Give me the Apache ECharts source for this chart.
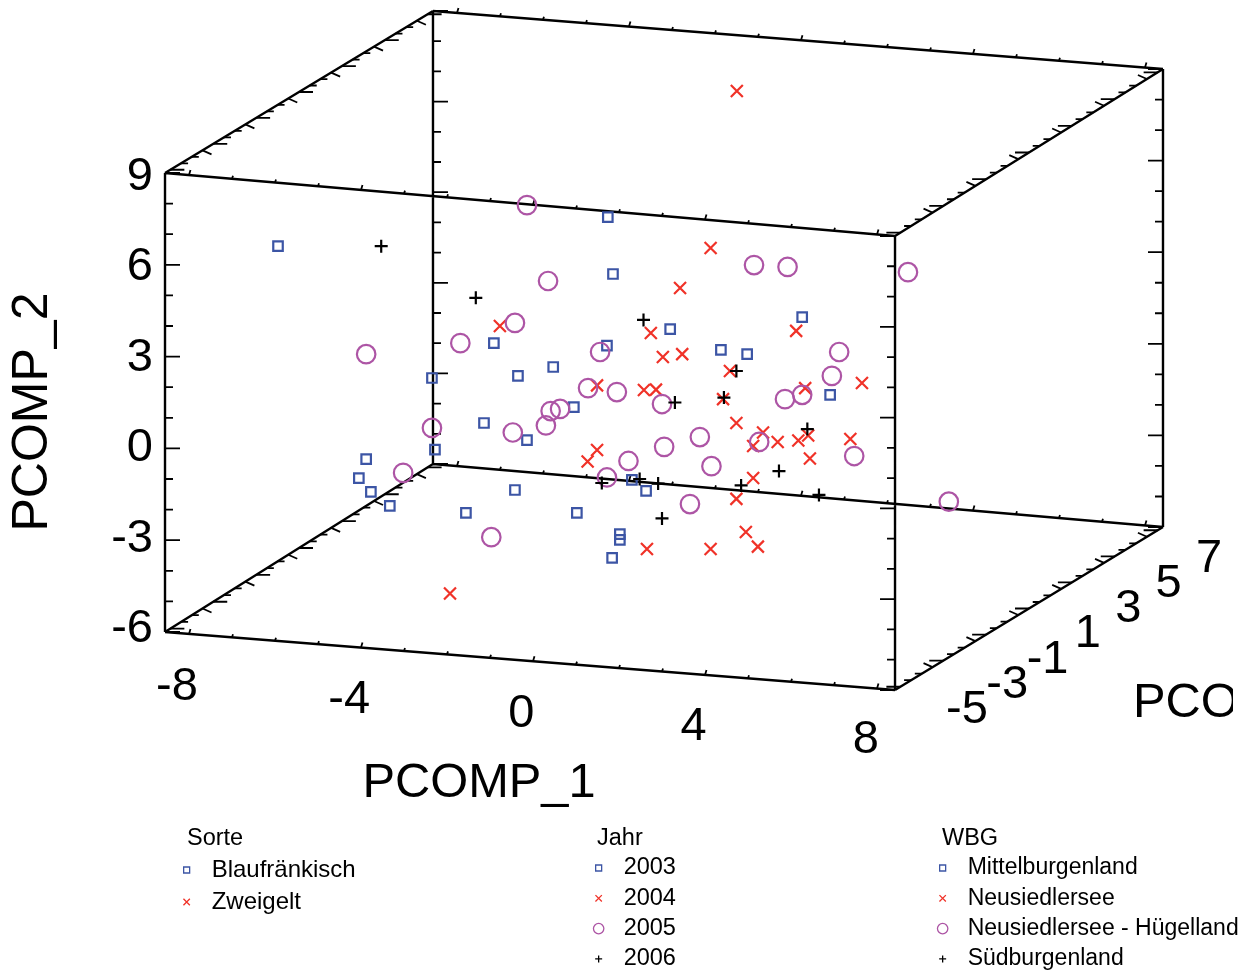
<!DOCTYPE html>
<html lang="de">
<head>
    <meta charset="UTF-8">
    <title>PCOMP Scatterplot</title>
    <script src="https://cdn.jsdelivr.net/npm/echarts@6/dist/echarts.min.js"></script>
    <style>
        html, body { margin: 0; padding: 0; background: #fff; }
        #chart { width: 1247px; height: 972px; }
    </style>
</head>
<body>
    <div id="chart"></div>
    <script>
        // Points: [PCOMP_1, PCOMP_2] on the plot plane
        const year2003 = [[-5.93,6.61],[1.74,7.56],[1.86,5.70],[6.26,4.29],[3.19,3.90],[-0.91,3.44],[1.72,3.36],[4.37,3.22],
            [4.98,3.08],[0.47,2.66],[-0.35,2.37],[-2.35,2.30],[6.91,1.75],[0.95,1.35],[-1.14,0.83],[-0.14,0.27],[-2.28,-0.04],
            [-3.88,-0.35],[-4.05,-0.97],[-3.77,-1.42],[-3.33,-1.88],[-0.42,-1.36],[-1.56,-2.11],[1.02,-2.11],[2.02,-2.80],
            [2.02,-2.99],[1.84,-3.58],[2.30,-1.03],[2.63,-1.39]];
        const year2004 = [[4.74,11.68],[4.13,6.55],[3.42,5.24],[-0.77,4.00],[2.74,3.77],[6.12,3.84],[3.02,2.99],[3.47,3.08],
            [4.58,2.53],[7.65,2.14],[1.49,2.06],[2.58,1.91],[2.86,1.92],[6.33,1.97],[4.42,1.61],[4.73,0.83],[5.35,0.52],
            [5.69,0.21],[5.12,0.08],[6.17,0.26],[6.40,0.42],[7.38,0.31],[6.44,-0.33],[5.12,-0.97],[4.73,-1.65],[1.49,-0.05],
            [1.27,-0.43],[4.95,-2.73],[5.23,-3.21],[4.13,-3.29],[2.65,-3.29],[-1.93,-4.74]];
        const year2005 = [[-0.14,7.95],[0.35,5.47],[5.14,5.99],[5.92,5.93],[8.72,5.76],[-0.42,4.10],[-1.69,3.44],[-3.88,3.08],
            [1.56,3.15],[7.12,3.15],[6.95,2.37],[1.28,1.97],[1.95,1.84],[5.86,1.61],[6.26,1.75],[3.00,1.45],[0.41,1.22],
            [0.63,1.29],[0.30,0.75],[-0.47,0.52],[-2.35,0.67],[3.88,0.37],[3.05,0.05],[5.26,0.21],[7.47,-0.25],[4.15,-0.58],
            [2.22,-0.41],[1.72,-0.95],[-3.02,-0.80],[3.65,-1.82],[9.67,-1.74],[-0.97,-2.90]];
        const year2006 = [[-3.53,6.61],[-1.33,4.92],[2.57,4.20],[4.73,2.53],[3.30,1.50],[4.44,1.66],[6.38,0.63],[5.72,-0.74],
            [2.48,-1.00],[1.60,-1.13],[2.91,-1.15],[4.84,-1.21],[6.65,-1.52],[3.00,-2.29]];

        const sorteNames = ['Blaufränkisch', 'Zweigelt'];
        const jahrNames = ['2003', '2004', '2005', '2006'];
        const wbgNames = ['Mittelburgenland', 'Neusiedlersee', 'Neusiedlersee - Hügelland', 'Südburgenland'];

        const xTicks = [-8, -4, 0, 4, 8];
        const yTicks = [-6, -3, 0, 3, 6, 9];
        const zTicks = [-5, -3, -1, 1, 3, 5, 7];

        // Box corners in plot plane units (F/B front back, L/R left right, B/T bottom top)
        const FLB = [-8.558, -6], FRB = [8.419, -7.895], FLT = [-8.558, 9], FRT = [8.419, 6.941];
        const BLB = [-2.326, -0.51], BRB = [14.651, -2.569], BLT = [-2.326, 14.294], BRT = [14.651, 12.399];

        const FONT = '"Liberation Sans", Arial, sans-serif';
        const BLUE = '#3c55a5', RED = '#f03228', PURPLE = '#ad55a5', BLACK = '#000';

        // pixels per unit of the two hidden scales
        const PX_X = 43, PX_Y = 30.6;
        const xMin = -8.558, xMax = 8.419, zMin = -5.25, zMax = 7.25;

        function lerp(a, b, t) {
            return [a[0] + (b[0] - a[0]) * t, a[1] + (b[1] - a[1]) * t];
        }

        // segment starting on a point, direction given in pixels
        function tick(list, p, dx, dy) {
            list.push(p, [p[0] + dx / PX_X, p[1] - dy / PX_Y], ['-', '-']);
        }

        function boxEdges() {
            const out = [];
            const edges = [[FLT, FRT], [FRT, FRB], [FRB, FLB], [FLB, FLT], [BLT, BRT], [BRT, BRB], [BRB, BLB], [BLB, BLT],
                [FLT, BLT], [FRT, BRT], [FLB, BLB], [FRB, BRB]];
            edges.forEach(e => out.push(e[0], e[1], ['-', '-']));
            return out;
        }

        function boxTicks() {
            const out = [];
            // PCOMP_1 ticks on the four long edges
            [[FLB, FRB], [FLT, FRT], [BLB, BRB], [BLT, BRT]].forEach(e => {
                for (let v = -8; v <= 8; v++) {
                    const major = v % 4 === 0;
                    tick(out, lerp(e[0], e[1], (v - xMin) / (xMax - xMin)), major ? 1.5 : 1, major ? -5 : -3);
                }
            });
            // PCOMP_2 ticks on the verticals
            [[FLB, FLT, 1], [BLB, BLT, 1], [FRB, FRT, -1], [BRB, BRT, -1]].forEach(e => {
                for (let v = -6; v <= 9; v++) {
                    tick(out, lerp(e[0], e[1], (v + 6) / 15), e[2] * (v % 3 === 0 ? 15 : 8), 0);
                }
            });
            // PCOMP_3 ticks on the depth edges
            [[FLB, BLB, 1], [FLT, BLT, 1], [FRB, BRB, -1], [FRT, BRT, -1]].forEach(e => {
                for (let k = 0; k <= 24; k++) {
                    const p = lerp(e[0], e[1], (-5 + k * 0.5 - zMin) / (zMax - zMin));
                    if (k % 4 === 0) tick(out, p, e[2] * 14, 0);
                    else if (k % 4 === 3) tick(out, p, e[2] * 9, e[2] * 4);
                    else tick(out, p, e[2] * 7, 0);
                }
            });
            return out;
        }

        function axisLabels(values, from, to) {
            return values.map((v, i) => {
                const p = lerp(from, to, i / (values.length - 1));
                return { value: p, name: String(v) };
            });
        }

        const SYM_X = 'path://M0 0L10 10M10 0L0 10';
        const SYM_PLUS = 'path://M5 0V10M0 5H10';
        // legend versions, padded so they keep their own size in the icon cell
        const ICON_RECT = 'path://M0 0M14 14M4 4H10V10H4Z';
        const ICON_X = 'path://M0 0M14 14M3.8 3.8L10.2 10.2M10.2 3.8L3.8 10.2';
        const ICON_CIRCLE = 'path://M0 0M14 14M12.2 7A5.2 5.2 0 1 1 1.8 7A5.2 5.2 0 1 1 12.2 7Z';
        const ICON_PLUS = 'path://M0 0M14 14M7 3.5V10.5M3.5 7H10.5';

        const STYLES = [
            { symbol: 'rect', size: 9.5, color: BLUE, icon: ICON_RECT },
            { symbol: SYM_X, size: 12, color: RED, icon: ICON_X },
            { symbol: 'circle', size: 18.5, color: PURPLE, icon: ICON_CIRCLE },
            { symbol: SYM_PLUS, size: 13, color: BLACK, icon: ICON_PLUS }
        ];

        function markerSeries(name, data, st) {
            return {
                name: name,
                type: 'scatter',
                data: data,
                clip: false,
                symbol: st.symbol,
                symbolSize: st.size,
                silent: true,
                z: 5,
                itemStyle: { color: 'transparent', borderColor: st.color, borderWidth: 2.2, opacity: 1 }
            };
        }

        function legendBlock(names, left, top, gap, fontSize) {
            return {
                orient: 'vertical',
                left: left,
                top: top,
                padding: 0,
                height: 116,
                itemWidth: 40,
                itemHeight: 14,
                itemGap: gap,
                selectedMode: false,
                textStyle: { fontFamily: FONT, fontSize: fontSize, color: '#000', lineHeight: 24 },
                data: names.map((n, i) => ({
                    name: n,
                    icon: STYLES[i].icon,
                    itemStyle: { color: 'transparent', borderColor: STYLES[i].color, borderWidth: 1.3 }
                }))
            };
        }

        function labelSeries(data, align) {
            return {
                type: 'scatter',
                data: data,
                clip: false,
                silent: true,
                symbolSize: 1,
                itemStyle: { color: 'transparent', opacity: 1 },
                label: {
                    show: true,
                    position: 'inside',
                    align: align,
                    formatter: '{b}',
                    color: '#000',
                    fontFamily: FONT,
                    fontSize: 47
                }
            };
        }

        const chart = echarts.init(document.getElementById('chart'), null, { renderer: 'canvas' });
        chart.setOption({
            animation: false,
            backgroundColor: '#fff',
            // grid spans the page width so the depth of the box is not cut off
            grid: { left: 0, top: 173, width: 1247, height: 459, containLabel: false },
            xAxis: { type: 'value', min: -533 / PX_X, max: 714 / PX_X, show: false },
            yAxis: { type: 'value', min: -6, max: 9, interval: 3, show: false },
            title: [
                { text: 'Sorte', left: 187, top: 827, padding: 0, textStyle: { fontFamily: FONT, fontSize: 23.5, fontWeight: 'normal', color: '#000' } },
                { text: 'Jahr', left: 597, top: 827, padding: 0, textStyle: { fontFamily: FONT, fontSize: 23.5, fontWeight: 'normal', color: '#000' } },
                { text: 'WBG', left: 942, top: 827, padding: 0, textStyle: { fontFamily: FONT, fontSize: 23.5, fontWeight: 'normal', color: '#000' } }
            ],
            legend: [
                legendBlock(sorteNames, 179, 858, 8, 24),
                legendBlock(jahrNames, 591, 856, 6.3, 23.5),
                legendBlock(wbgNames, 935, 856, 6.3, 23)
            ],
            graphic: [
                { type: 'text', x: 479, y: 784, z: 10, style: { text: 'PCOMP_1', fill: '#000', font: '48.8px ' + FONT, textAlign: 'center', textVerticalAlign: 'middle' } },
                { type: 'text', x: 33, y: 412, z: 10, rotation: Math.PI / 2, style: { text: 'PCOMP_2', fill: '#000', font: '50px ' + FONT, textAlign: 'center', textVerticalAlign: 'middle' } },
                { type: 'text', x: 1133, y: 704, z: 10, style: { text: 'PCOMP_3', fill: '#000', font: '48.8px ' + FONT, textAlign: 'left', textVerticalAlign: 'middle' } },
                { type: 'rect', z: 11, shape: { x: 1233, y: 670, width: 14, height: 60 }, style: { fill: '#fff' } }
            ],
            series: [
                { type: 'line', data: boxTicks(), clip: false, silent: true, symbol: 'none', connectNulls: false, lineStyle: { color: BLACK, width: 1.8 }, z: 2 },
                { type: 'line', data: boxEdges(), clip: false, silent: true, symbol: 'none', connectNulls: false, lineStyle: { color: BLACK, width: 2.4 }, z: 3 },
                labelSeries(axisLabels(xTicks, [-8.28, -7.8], [7.74, -9.53]), 'center'),
                labelSeries(axisLabels(yTicks, [-8.837, -5.9], [-8.837, 8.87]), 'right'),
                labelSeries(axisLabels(zTicks, [10.09, -8.56], [15.72, -3.6]), 'center'),
                markerSeries('2003', year2003, STYLES[0]),
                markerSeries('2004', year2004, STYLES[1]),
                markerSeries('2005', year2005, STYLES[2]),
                markerSeries('2006', year2006, STYLES[3]),
                // no points of their own, these only feed the Sorte and WBG legends
                ...sorteNames.map((n, i) => markerSeries(n, [], STYLES[i])),
                ...wbgNames.map((n, i) => markerSeries(n, [], STYLES[i]))
            ]
        });
    </script>
</body>
</html>
